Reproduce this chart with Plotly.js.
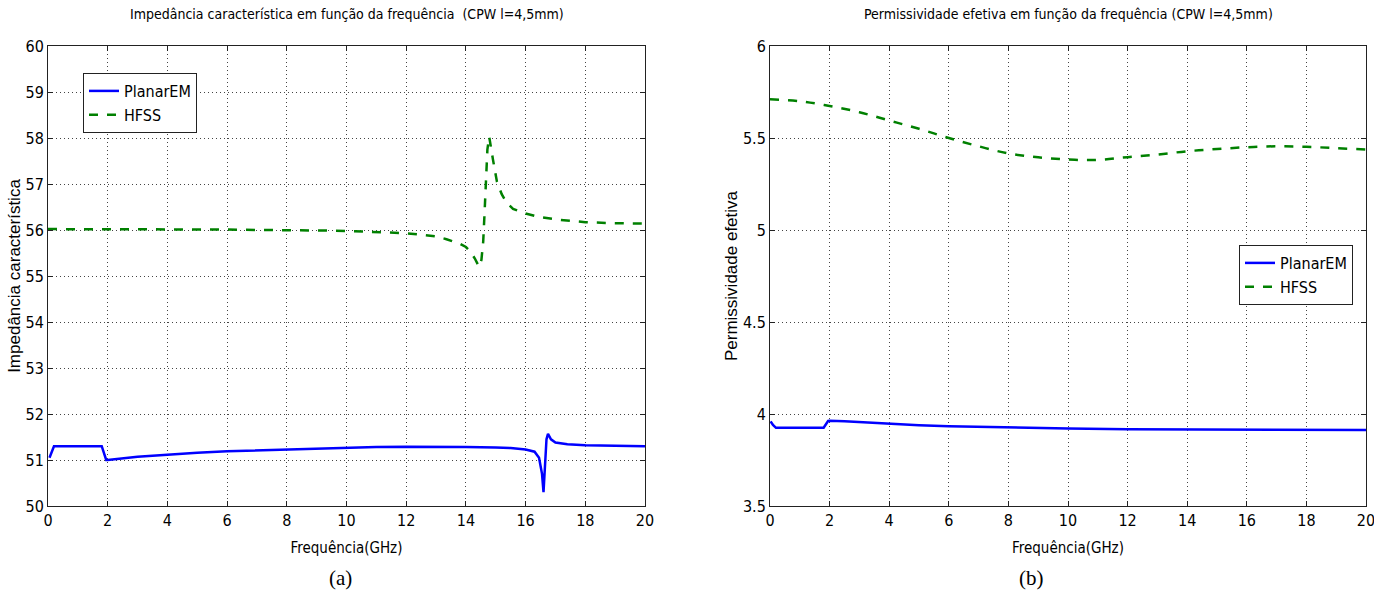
<!DOCTYPE html>
<html>
<head>
<meta charset="utf-8">
<script src="https://cdn.plot.ly/plotly-3.0.1.min.js"></script>
<style>
html,body{margin:0;padding:0;background:#fff;}
#chart{width:1374px;height:594px;}
</style>
</head>
<body>
<div id="chart"></div>
<script>
// ---- (a) Impedância característica ----
const freqZHfss = [0,1,2,3,4,5,6,7,8,9,10,11,11.5,12,12.5,13,13.35,13.6,13.8,14.0,14.15,14.3,14.44,14.52,14.58,14.62,14.67,14.72,14.78,14.85,14.91,15.04,15.2,15.36,15.58,16,16.48,17.15,18,18.9,20];
const zHfss = [56.02,56.02,56.02,56.02,56.02,56.01,56.01,56.0,56.0,55.99,55.98,55.96,55.95,55.93,55.9,55.86,55.8,55.75,55.7,55.63,55.53,55.38,55.2,55.35,55.75,56.3,57.16,57.75,58.03,57.8,57.52,57.05,56.78,56.6,56.46,56.36,56.28,56.22,56.17,56.15,56.14];

const freqZPlanar = [0.05,0.2,0.5,1,1.5,1.8,1.95,2,3,4,5,6,7,8,9,10,11,12,13,14,15,15.5,16,16.3,16.45,16.55,16.6,16.65,16.7,16.75,16.85,17,17.4,18,19,20];
const zPlanar = [51.05,51.3,51.3,51.3,51.3,51.3,51.0,51.0,51.07,51.12,51.16,51.19,51.21,51.23,51.25,51.26,51.28,51.29,51.29,51.28,51.27,51.26,51.23,51.18,51.05,50.7,50.3,50.8,51.45,51.57,51.45,51.38,51.34,51.32,51.31,51.3];

// ---- (b) Permissividade efetiva ----
const freqEHfss = [0,1,2,3,4,5,6,7,8,9,10,11,12,13,14,15,16,17,18,19,20];
const eHfss = [5.71,5.70,5.674,5.64,5.595,5.55,5.50,5.455,5.416,5.395,5.383,5.381,5.396,5.41,5.428,5.44,5.45,5.455,5.452,5.445,5.437];

const freqEPlanar = [0.02,0.1,0.2,0.5,1,1.5,1.8,1.95,2,2.5,3,4,5,6,7,8,9,10,12,14,16,18,20];
const ePlanar = [3.96,3.94,3.925,3.925,3.925,3.925,3.925,3.962,3.963,3.96,3.955,3.946,3.939,3.933,3.929,3.926,3.923,3.921,3.917,3.916,3.915,3.914,3.913];

const xTicks = [0,2,4,6,8,10,12,14,16,18,20];
const zTicks = [50,51,52,53,54,55,56,57,58,59,60];
const eTicks = [3.5,4,4.5,5,5.5,6];

const titleA = 'Impedância característica em função da frequência \u00a0(CPW l=4,5mm)';
const titleB = 'Permissividade efetiva em função da frequência (CPW l=4,5mm)';
const xTitle = 'Frequência(GHz)';
const yTitleA = 'Impedância característica';
const yTitleB = 'Permissividade efetiva';
const seriesNames = ['PlanarEM','HFSS'];

const NARROW = '"Liberation Sans Narrow", "Arial Narrow", "DejaVu Sans Condensed", sans-serif';
const ARIAL = '"Liberation Sans", Arial, sans-serif';
const BLUE = '#0000ff', GREEN = '#008000';

const traces = [
  {x: freqZPlanar, y: zPlanar, name: seriesNames[0], mode:'lines', xaxis:'x', yaxis:'y',
   line:{color:BLUE, width:2.5}, legend:'legend'},
  {x: freqZHfss, y: zHfss, name: seriesNames[1], mode:'lines', xaxis:'x', yaxis:'y',
   line:{color:GREEN, width:2.5, dash:'dash'}, legend:'legend'},
  {x: freqEPlanar, y: ePlanar, name: seriesNames[0], mode:'lines', xaxis:'x2', yaxis:'y2',
   line:{color:BLUE, width:2.5}, legend:'legend2'},
  {x: freqEHfss, y: eHfss, name: seriesNames[1], mode:'lines', xaxis:'x2', yaxis:'y2',
   line:{color:GREEN, width:2.5, dash:'dash', shape:'spline'}, legend:'legend2'}
];

const W = 1374, H = 594;
const px = v => v / W, py = v => 1 - v / H;

function xAxis(domain, anchor){
  return {
    domain: domain, anchor: anchor, range:[0,20], tickvals: xTicks,
    ticks:'inside', ticklen:5, tickcolor:'#222', mirror:'ticks',
    showline:true, linecolor:'#222', linewidth:1,
    showgrid:true, gridcolor:'#444', griddash:'1px,3px', gridwidth:1,
    zeroline:false, ticklabeloverflow:'allow',
    tickfont:{family:NARROW, size:16, color:'#000'},
    title:{text:xTitle, font:{family:NARROW, size:15, color:'#000'}, standoff:13}
  };
}
function yAxis(range, ticks, anchor, title){
  return {
    domain:[py(506), py(46)], anchor: anchor, range: range, tickvals: ticks,
    ticks:'inside', ticklen:5, tickcolor:'#222', mirror:'ticks',
    showline:true, linecolor:'#222', linewidth:1,
    showgrid:true, gridcolor:'#444', griddash:'1px,3px', gridwidth:1,
    zeroline:false, ticklabeloverflow:'allow',
    tickfont:{family:NARROW, size:16, color:'#000'},
    title:{text:title, font:{family:ARIAL, size:17, color:'#000'}, standoff:0}
  };
}

const layout = {
  width: W, height: H,
  margin:{l:0, r:0, t:0, b:0},
  paper_bgcolor:'#fff', plot_bgcolor:'#fff',
  showlegend:true,
  xaxis: xAxis([px(48), px(645)], 'y'),
  yaxis: yAxis([50,60], zTicks, 'x', yTitleA),
  xaxis2: xAxis([px(770), px(1366)], 'y2'),
  yaxis2: yAxis([3.5,6], eTicks, 'x2', yTitleB),
  legend:{x:px(83), y:py(73), xanchor:'left', yanchor:'top', bgcolor:'#fff',
          bordercolor:'#222', borderwidth:1, font:{family:NARROW, size:16, color:'#000'}},
  legend2:{x:px(1239), y:py(245), xanchor:'left', yanchor:'top', bgcolor:'#fff',
          bordercolor:'#222', borderwidth:1, font:{family:NARROW, size:16, color:'#000'}},
  annotations:[
    {text:titleA, xref:'paper', yref:'paper', x:px(346.5), y:py(14), xanchor:'center', yanchor:'middle',
     showarrow:false, font:{family:NARROW, size:14, color:'#000'}},
    {text:titleB, xref:'paper', yref:'paper', x:px(1068), y:py(14), xanchor:'center', yanchor:'middle',
     showarrow:false, font:{family:NARROW, size:14, color:'#000'}},
    {text:'(a)', xref:'paper', yref:'paper', x:px(340), y:py(578), xanchor:'center', yanchor:'middle',
     showarrow:false, font:{family:'"Liberation Serif", "Times New Roman", serif', size:21, color:'#000'}},
    {text:'(b)', xref:'paper', yref:'paper', x:px(1031), y:py(578), xanchor:'center', yanchor:'middle',
     showarrow:false, font:{family:'"Liberation Serif", "Times New Roman", serif', size:21, color:'#000'}}
  ]
};

Plotly.newPlot('chart', traces, layout, {displayModeBar:false, staticPlot:true});
</script>
</body>
</html>
